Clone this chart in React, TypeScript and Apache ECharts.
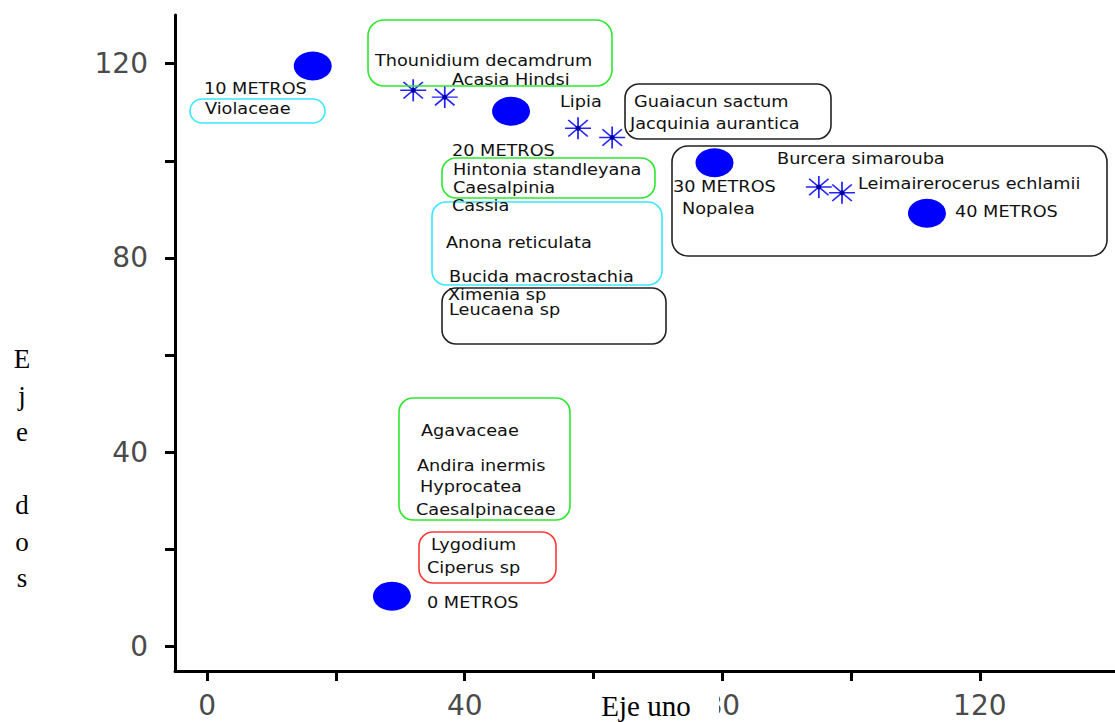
import React, { useEffect, useRef } from "react";
import * as echarts from "echarts";

// Axis ticks and labels
const xTickValues = [0, 20, 40, 60, 80, 100, 120];
const xLabelValues = [0, 40, 80, 120];
const yTickValues = [0, 20, 40, 60, 80, 100, 120];
const yLabelValues = [0, 40, 80, 120];

// Sites (blue filled circles)
const siteNames = ["0 METROS", "10 METROS", "20 METROS", "30 METROS", "40 METROS"];
const siteX = [28.7, 16.4, 47.2, 78.8, 111.8];
const siteY = [10.4, 119.5, 110.2, 99.6, 89.2];

// Species points (blue asterisks)
const starX = [32.0, 36.9, 57.6, 62.9, 95.0, 98.6];
const starY = [114.5, 113.1, 106.7, 104.8, 94.6, 93.4];

// Annotation texts: [text, left px, middle px]
const noteTexts: [string, number, number][] = [
  ["10 METROS", 204, 89],
  ["Violaceae", 205, 109],
  ["Thounidium decamdrum", 375, 61],
  ["Acasia Hindsi", 452, 80],
  ["Lipia", 560, 102],
  ["Guaiacun sactum", 634, 102],
  ["Jacquinia aurantica", 630, 124],
  ["20 METROS", 452, 151],
  ["Hintonia standleyana", 453, 170],
  ["Caesalpinia", 453, 188],
  ["Cassia", 452, 206],
  ["Anona reticulata", 446, 243],
  ["Bucida macrostachia", 449, 277],
  ["Ximenia sp", 448, 295],
  ["Leucaena sp", 449, 310],
  ["Burcera simarouba", 777, 159],
  ["30 METROS", 673, 187],
  ["Nopalea", 682, 209],
  ["Leimairerocerus echlamii", 858, 184],
  ["40 METROS", 955, 212],
  ["Agavaceae", 421, 431],
  ["Andira inermis", 417, 466],
  ["Hyprocatea", 420, 487],
  ["Caesalpinaceae", 416, 510],
  ["Lygodium", 431, 545],
  ["Ciperus sp", 427, 568],
  ["0 METROS", 427, 603],
];

const CYAN = "#38e8ff";
const GREEN = "#2ee62e";
const BLACK = "#222222";
const RED = "#ff3838";

// Group boxes: [x, y, w, h, r, color]
const noteBoxes: [number, number, number, number, number, string][] = [
  [190, 99, 135, 24, 12, CYAN],
  [368, 20, 244, 66, 16, GREEN],
  [625, 84, 206, 55, 14, BLACK],
  [442, 158, 213, 40, 14, GREEN],
  [432, 202, 230, 83, 14, CYAN],
  [442, 288, 224, 56, 14, BLACK],
  [672, 146, 435, 110, 16, BLACK],
  [399, 398, 171, 122, 14, GREEN],
  [419, 532, 137, 51, 14, RED],
];

const STAR_PATH = "path://M0,10 L20,10 M10,0 L10,20 M2.5,2.5 L17.5,17.5 M2.5,17.5 L17.5,2.5";

export default function App() {
  const ref = useRef<HTMLDivElement>(null);
  useEffect(() => {
    if (!ref.current) return;
    const chart = echarts.init(ref.current, null, { renderer: "svg" });

    const graphics: any[] = [];
    noteBoxes.forEach(([x, y, w, h, r, c]) => {
      graphics.push({
        type: "rect",
        z: 50,
        shape: { x, y, width: w, height: h, r },
        style: { fill: "none", stroke: c, lineWidth: 1.6 },
      });
    });
    noteTexts.forEach(([t, x, y]) => {
      graphics.push({
        type: "text",
        z: 60,
        x,
        y,
        scaleX: 1.18,
        style: {
          text: t,
          fill: "#111",
          font: '15px "DejaVu Sans"',
          textAlign: "left",
          textVerticalAlign: "middle",
        },
      });
    });
    // x-axis title with white backdrop
    graphics.push({
      type: "rect",
      z: 80,
      shape: { x: 578, y: 679, width: 141, height: 43 },
      style: { fill: "#ffffff" },
    });
    graphics.push({
      type: "text",
      z: 90,
      x: 646,
      y: 706,
      style: {
        text: "Eje uno",
        fill: "#000",
        font: '29px "Liberation Serif"',
        textAlign: "center",
        textVerticalAlign: "middle",
      },
    });
    // y-axis title, vertical letters
    graphics.push({
      type: "text",
      z: 90,
      x: 22,
      y: 341,
      style: {
        text: "E\nj\ne\n\nd\no\ns",
        fill: "#000",
        font: '27px "Liberation Serif"',
        lineHeight: 36.5,
        textAlign: "center",
        textVerticalAlign: "top",
      },
    });

    const axisLabelStyle = {
      color: "#4a4a4a",
      fontSize: 28,
      fontFamily: "DejaVu Sans",
      fontWeight: "normal",
    };

    chart.setOption({
      animation: false,
      backgroundColor: "#ffffff",
      grid: {
        left: 175,
        right: 0,
        top: 15,
        bottom: 51,
        containLabel: false,
        outerBoundsMode: "none",
      },
      xAxis: {
        type: "value",
        min: -5,
        max: 141,
        splitLine: { show: false },
        axisLine: { show: true, onZero: false, lineStyle: { color: "#000", width: 3 } },
        axisTick: {
          show: true,
          customValues: xTickValues,
          length: 10,
          lineStyle: { color: "#000", width: 3 },
        },
        axisLabel: { ...axisLabelStyle, customValues: xLabelValues, margin: 20 },
      },
      yAxis: {
        type: "value",
        min: -5,
        max: 130,
        splitLine: { show: false },
        axisLine: { show: true, onZero: false, lineStyle: { color: "#000", width: 3 } },
        axisTick: {
          show: true,
          customValues: yTickValues,
          length: 10,
          lineStyle: { color: "#000", width: 3 },
        },
        axisLabel: { ...axisLabelStyle, customValues: yLabelValues, margin: 27 },
      },
      series: [
        {
          type: "scatter",
          name: "sitios",
          data: siteX.map((x, i) => ({ value: [x, siteY[i]], name: siteNames[i] })),
          symbol: "circle",
          symbolSize: [38, 29],
          itemStyle: { color: "#0000ff", opacity: 1 },
          z: 3,
        },
        {
          type: "scatter",
          name: "especies",
          data: starX.map((x, i) => [x, starY[i]]),
          symbol: STAR_PATH,
          symbolSize: [26, 22],
          itemStyle: { color: "transparent", borderColor: "#2424ff", borderWidth: 1.6, opacity: 1 },
          z: 3,
        },
        {
          type: "scatter",
          name: "centros",
          data: starX.map((x, i) => [x, starY[i]]),
          symbol: "circle",
          symbolSize: 5,
          itemStyle: { color: "#000099", opacity: 1 },
          z: 4,
        },
      ],
      graphic: graphics,
    });
    return () => chart.dispose();
  }, []);
  return (
    <div
      ref={ref}
      style={{ position: "absolute", left: 0, top: 0, width: 1115, height: 722 }}
    />
  );
}
